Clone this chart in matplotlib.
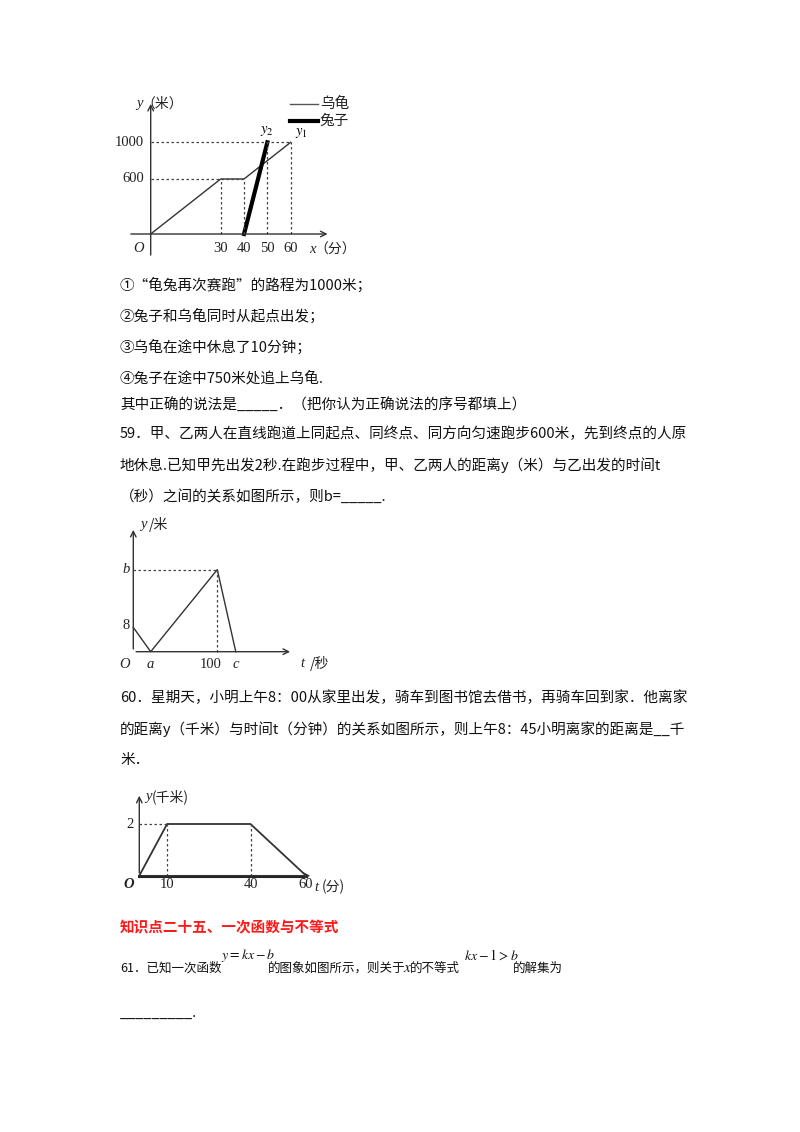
import matplotlib
matplotlib.use("Agg")
import matplotlib.pyplot as plt

plt.rcParams['font.family'] = ['Noto Sans CJK SC', 'DejaVu Sans']
plt.rcParams['mathtext.fontset'] = 'stix'

# Chart 1 data
tort_x = [0, 30, 40, 60]
tort_y = [0, 600, 600, 1000]
rab_x = [40, 50]
rab_y = [0, 1000]
c1_xticks = [30, 40, 50, 60]
c1_yticks = [600, 1000]
# Chart 2 data
c2_x = [0, 20.7, 100, 122]
c2_y = [8, 0, 27, 0]
c2_b = 27
# Chart 3 data
c3_x = [0, 10, 40, 60]
c3_y = [0, 2, 2, 0]

W, H = 800, 1132
fig = plt.figure(figsize=(8, 11.32), dpi=100)

def ax_px(ox, oy, sx, sy, left, top, right, bottom):
    ax = fig.add_axes([left / W, 1 - bottom / H, (right - left) / W, (bottom - top) / H])
    ax.set_xlim((left - ox) / sx, (right - ox) / sx)
    ax.set_ylim((oy - bottom) / sy, (oy - top) / sy)
    ax.axis('off')
    return ax

def arrows(ax, x0, x1, y0, y1, lw=1.0):
    ax.annotate('', xy=(x1, 0), xytext=(x0, 0),
                arrowprops=dict(arrowstyle='->', lw=lw, color='#333'))
    ax.annotate('', xy=(0, y1), xytext=(0, y0),
                arrowprops=dict(arrowstyle='->', lw=lw, color='#333'))

ser = dict(family=['Liberation Serif'], fontsize=10.5, color='#222')
cjk = dict(family=['Noto Sans CJK SC'], fontsize=10, color='#222')
dash = dict(ls=(0, (2, 2)), lw=0.9, color='#444')

def lab(ax, x, y, var, unit, ha_off=0):
    """italic variable followed by CJK unit, placed in pixel offset."""
    t = ax.text(x, y, var, ha='left', va='center', style='italic', **ser)
    ax.annotate(unit, xy=(x, y), xycoords='data', xytext=(9 + ha_off, 0),
                textcoords='offset pixels', ha='left', va='center', **cjk)

# ---- Chart 1
sx1, sy1 = 70 / 30, 91.7 / 1000
ax1 = ax_px(150.7, 234, sx1, sy1, 110, 90, 370, 262)
arrows(ax1, -9.7, 77, -260, 1450)
ax1.plot(tort_x, tort_y, color='#333', lw=1.0)
ax1.plot(rab_x, rab_y, color='#000', lw=3.0)
for xv, yv in [(30, 600), (40, 600), (50, 1000), (60, 1000)]:
    ax1.plot([xv, xv], [0, yv], **dash)
ax1.plot([0, 40], [600, 600], **dash)
ax1.plot([0, 60], [1000, 1000], **dash)
for t in c1_xticks:
    ax1.text(t, -90, str(t), ha='center', va='top', **ser)
for t in c1_yticks:
    ax1.text(-3, t, str(t), ha='right', va='center', **ser)
ax1.text(-3, -90, 'O', ha='right', va='top', style='italic', **ser)
lab(ax1, 68, -170, 'x', '（分）', ha_off=-4)
lab(ax1, -6, 1420, 'y', '（米）', ha_off=-4)
ax1.text(50, 1050, '$y_2$', ha='center', va='bottom', fontsize=10.5)
ax1.text(62, 1020, '$y_1$', ha='left', va='bottom', fontsize=10.5)
fig.lines.append(plt.Line2D([290 / W, 318 / W], [1 - 104 / H] * 2, color='#555', lw=1.0, transform=fig.transFigure))
fig.lines.append(plt.Line2D([290 / W, 318 / W], [1 - 121 / H] * 2, color='#000', lw=3.0, transform=fig.transFigure))
fig.text(320 / W, 1 - 104 / H, '乌龟', fontsize=10.5, va='center', color='#222')
fig.text(320 / W, 1 - 121 / H, '兔子', fontsize=10.5, va='center', color='#222')

# ---- Chart 2
sx2, sy2 = 0.84, 3.04
ax2 = ax_px(133.3, 651.7, sx2, sy2, 110, 515, 330, 672)
arrows(ax2, 0, 190, 0, 41)
ax2.plot(c2_x, c2_y, color='#333', lw=1.0)
ax2.plot([0, 100], [c2_b, c2_b], **dash)
ax2.plot([100, 100], [0, c2_b], **dash)
ax2.text(-4, c2_b, 'b', ha='right', va='center', style='italic', **ser)
ax2.text(-4, 8.5, '8', ha='right', va='center', **ser)
ax2.text(-4, -2, 'O', ha='right', va='top', style='italic', **ser)
ax2.text(c2_x[1], -2, 'a', ha='center', va='top', style='italic', **ser)
ax2.text(92, -2, '100', ha='center', va='top', **ser)
ax2.text(122, -2, 'c', ha='center', va='top', style='italic', **ser)
lab(ax2, 199, -4, 't', '/秒')
lab(ax2, 8, 42, 'y', '/米')

# ---- Chart 3
sx3, sy3 = 2.78, 25.85
ax3 = ax_px(139.3, 875.7, sx3, sy3, 115, 785, 360, 895)
arrows(ax3, 0, 62.5, 0, 3.2)
ax3.plot([0, 60], [0, 0], color='#222', lw=2.2)
ax3.plot(c3_x, c3_y, color='#333', lw=1.3)
ax3.plot([0, 10], [2, 2], **dash)
ax3.plot([10, 10], [0, 2], **dash)
ax3.plot([40, 40], [0, 2], **dash)
ax3.text(-2, 2, '2', ha='right', va='center', **ser)
ax3.text(-2, -0.1, 'O', ha='right', va='top', style='italic', fontweight='bold', **ser)
for t in [10, 40, 60]:
    ax3.text(t, -0.1, str(t), ha='center', va='top', **ser)
lab(ax3, 63, -0.45, 't', '(分)', ha_off=-2)
lab(ax3, 2, 3.05, 'y', '(千米)', ha_off=-2)

# ---- Text
tx = dict(fontsize=10.5, color='#111', va='center')
def line(x, y, s, **kw):
    d = dict(tx); d.update(kw)
    fig.text(x / W, 1 - y / H, s, **d)

lines = [
    (120, 285, '①“龟兔再次赛跑”的路程为1000米；'),
    (120, 316, '②兔子和乌龟同时从起点出发；'),
    (120, 347, '③乌龟在途中休息了10分钟；'),
    (120, 378, '④兔子在途中750米处追上乌龟.'),
    (120, 404, '其中正确的说法是_____．（把你认为正确说法的序号都填上）'),
    (120, 434, '59．甲、乙两人在直线跑道上同起点、同终点、同方向匀速跑步600米，先到终点的人原'),
    (120, 465, '地休息.已知甲先出发2秒.在跑步过程中，甲、乙两人的距离y（米）与乙出发的时间t'),
    (120, 496, '（秒）之间的关系如图所示，则b=_____.'),
    (120, 698, '60．星期天，小明上午8：00从家里出发，骑车到图书馆去借书，再骑车回到家．他离家'),
    (120, 729, '的距离y（千米）与时间t（分钟）的关系如图所示，则上午8：45小明离家的距离是__千'),
    (120, 760, '米．'),
]
for x, y, s in lines:
    line(x, y, s)
line(120, 927, '知识点二十五、一次函数与不等式', color='#ff1a1a', fontweight='bold')
s61 = dict(fontsize=9)
line(120, 968, '61．已知一次函数', **s61)
line(221, 955, '$y=kx-b$', fontsize=10)
line(268, 968, '的图象如图所示，则关于', **s61)
line(403, 968, '$x$', fontsize=11)
line(410, 968, '的不等式', **s61)
line(464, 955, '$kx-1>b$', fontsize=10)
line(513, 968, '的解集为', **s61)
line(120, 1013, '_________.')

fig.savefig('out.png', dpi=100)
